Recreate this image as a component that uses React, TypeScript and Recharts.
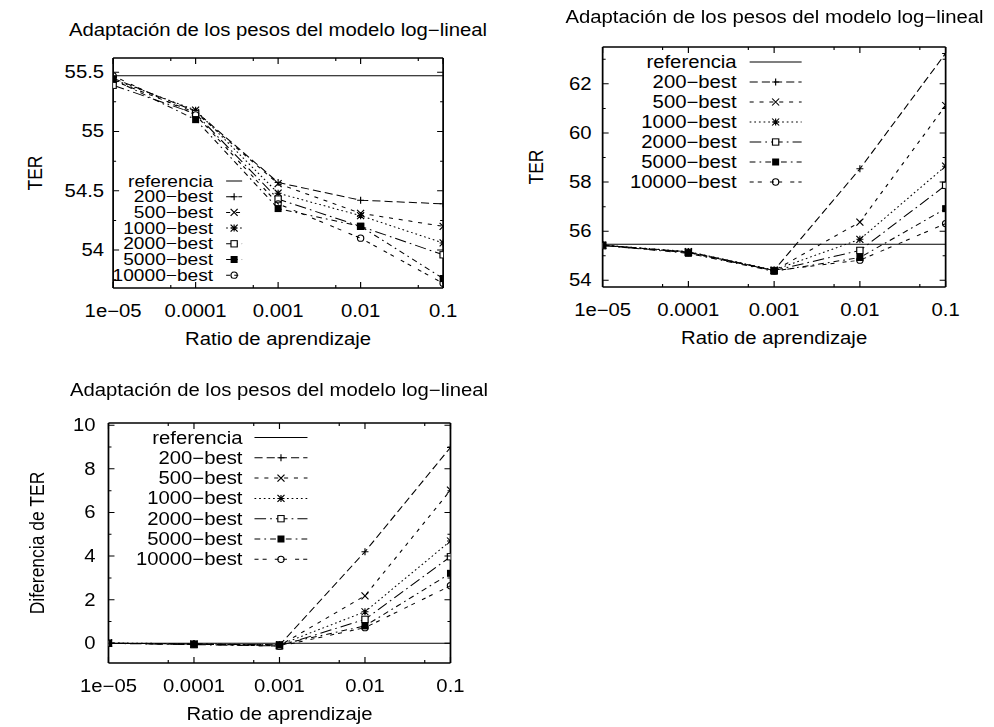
import { Legend, Line, LineChart, ReferenceLine, XAxis, YAxis } from "recharts"

// the reference picture is stretched sideways, so the whole page is drawn
// narrower and then scaled on x by this factor
const SX = 1.16
const FONT = "'Liberation Sans', Arial, Helvetica, sans-serif"
const FS = 17.5

const RATES = [1e-5, 1e-4, 1e-3, 1e-2, 1e-1]
const RATE_LABELS = ["1e−05", "0.0001", "0.001", "0.01", "0.1"]
const RATE_TICKS = [1e-5, 5e-5, 1e-4, 5e-4, 1e-3, 5e-3, 1e-2, 5e-2, 1e-1]

const NBEST = ["200−best", "500−best", "1000−best", "2000−best", "5000−best", "10000−best"]
const DASHES = ["7 3.5", "3.5 5", "1.5 2.5", "10 3.5 1.5 3.5", "5 3.5 1.5 3.5", "3.5 3.5 3.5 7"]
const MARKERS = ["plus", "cross", "star", "box", "boxFilled", "circle"]

// top-left panel: TER
const TER_REF = 55.47
const TER_200 = [55.45, 55.17, 54.57, 54.42, 54.39]
const TER_500 = [55.43, 55.16, 54.56, 54.31, 54.2]
const TER_1000 = [55.44, 55.18, 54.48, 54.29, 54.06]
const TER_2000 = [55.39, 55.15, 54.43, 54.2, 53.96]
const TER_5000 = [55.44, 55.1, 54.35, 54.2, 53.76]
const TER_10000 = [55.47, 55.14, 54.39, 54.1, 53.72]

// top-right panel: TER
const TER2_REF = 55.47
const TER2_200 = [55.43, 55.16, 54.41, 58.54, 63.24]
const TER2_500 = [55.42, 55.15, 54.4, 56.37, 61.12]
const TER2_1000 = [55.44, 55.17, 54.42, 55.67, 58.65]
const TER2_2000 = [55.41, 55.14, 54.4, 55.22, 57.87]
const TER2_5000 = [55.43, 55.1, 54.37, 54.93, 56.92]
const TER2_10000 = [55.44, 55.13, 54.39, 54.82, 56.31]

// bottom panel: diferencia de TER
const DIF_REF = 0
const DIF_200 = [0.0, -0.03, -0.08, 4.2, 8.98]
const DIF_500 = [0.01, -0.04, -0.1, 2.18, 7.02]
const DIF_1000 = [0.02, -0.02, -0.07, 1.45, 4.69]
const DIF_2000 = [0.0, -0.06, -0.12, 1.1, 3.97]
const DIF_5000 = [0.01, -0.04, -0.06, 0.8, 3.21]
const DIF_10000 = [0.0, -0.03, -0.13, 0.72, 2.64]

const SERIES = NBEST.map((name, i) => ({ key: `s${i}`, name, dash: DASHES[i], marker: MARKERS[i] }))

type Row = Record<string, number>

function buildRows(cols: number[][]): Row[] {
  return RATES.map((rate, i) => {
    const r: Row = { rate }
    SERIES.forEach((s, j) => {
      r[s.key] = cols[j][i]
    })
    return r
  })
}

const sameRate = (a: number, b: number) => Math.abs(a - b) / b < 1e-6
const isMajorRate = (v: number) => RATES.some((r) => sameRate(v, r))
const rateLabel = (v: number) => RATE_LABELS[RATES.findIndex((r) => sameRate(v, r))]

function Marker({ cx, cy, kind }: { cx: number; cy: number; kind: string }) {
  if (cx == null || cy == null) return null
  const h = 3.5
  const w = h / SX
  const k = { stroke: "#000", strokeWidth: 1 }
  switch (kind) {
    case "plus":
      return <path d={`M${cx - w},${cy}H${cx + w}M${cx},${cy - h}V${cy + h}`} {...k} />
    case "cross":
      return <path d={`M${cx - w},${cy - h}L${cx + w},${cy + h}M${cx - w},${cy + h}L${cx + w},${cy - h}`} {...k} />
    case "star":
      return (
        <path
          d={`M${cx - w},${cy}H${cx + w}M${cx},${cy - h}V${cy + h}M${cx - w},${cy - h}L${cx + w},${cy + h}M${cx - w},${cy + h}L${cx + w},${cy - h}`}
          {...k}
        />
      )
    case "box":
      return <rect x={cx - w * 0.9} y={cy - h * 0.9} width={w * 1.8} height={h * 1.8} fill="#fff" {...k} />
    case "boxFilled":
      return <rect x={cx - w} y={cy - h} width={w * 2} height={h * 2} fill="#000" />
    default:
      return <ellipse cx={cx} cy={cy} rx={w * 0.9} ry={h * 0.9} fill="none" {...k} />
  }
}

type Frame = { x: number; y: number; w: number; h: number }
type LegendPos = { right: number; x1: number; x2: number; y0: number; dy: number; fs: number }

type PanelProps = {
  title: string
  titleY: number
  frame: Frame // page pixels
  rows: Row[]
  refValue: number
  yDomain: [number, number]
  yTicks: number[]
  yMajor: number[]
  yLabelGap: number
  yTitle: string
  yTitleX: number
  legend: LegendPos
}

const PAD = { l: 105, r: 30, t: 10, b: 65 }

function Panel({ title, titleY, frame, rows, refValue, yDomain, yTicks, yMajor, yLabelGap, yTitle, yTitleX, legend }: PanelProps) {
  const left = frame.x - PAD.l
  const top = frame.y - PAD.t
  const W = (PAD.l + frame.w + PAD.r) / SX
  const H = PAD.t + frame.h + PAD.b
  const ux = (fx: number) => (fx - left) / SX
  const uy = (fy: number) => fy - top
  const txt = { fontSize: FS, fontFamily: FONT, fill: "#000" }
  const frameLine = { stroke: "#000", strokeWidth: 1.5 }

  const bottomTick = (p: any) => {
    const v = p.payload.value
    const major = isMajorRate(v)
    return (
      <g>
        <line x1={p.x} x2={p.x} y1={p.y} y2={p.y - (major ? 6 : 3)} stroke="#000" />
        {major && (
          <text x={p.x} y={p.y + 23} textAnchor="middle" dominantBaseline="central" {...txt}>
            {rateLabel(v)}
          </text>
        )}
      </g>
    )
  }
  const topTick = (p: any) => {
    const major = isMajorRate(p.payload.value)
    return <line x1={p.x} x2={p.x} y1={p.y} y2={p.y + (major ? 6 : 3)} stroke="#000" />
  }
  const leftTick = (p: any) => {
    const v = p.payload.value
    const major = yMajor.includes(v)
    return (
      <g>
        <line x1={p.x} x2={p.x + (major ? 6 : 3) / SX} y1={p.y} y2={p.y} stroke="#000" />
        {major && (
          <text x={p.x - yLabelGap / SX} y={p.y} textAnchor="end" dominantBaseline="central" {...txt}>
            {String(v)}
          </text>
        )}
      </g>
    )
  }
  const rightTick = (p: any) => {
    const major = yMajor.includes(p.payload.value)
    return <line x1={p.x} x2={p.x - (major ? 6 : 3) / SX} y1={p.y} y2={p.y} stroke="#000" />
  }

  const legendRows = [{ name: "referencia", dash: undefined as string | undefined, marker: "" }, ...SERIES]

  return (
    <>
      <div
        style={{
          position: "absolute",
          left: (frame.x + frame.w / 2 - 300) / SX,
          width: 600 / SX,
          top: titleY - 11,
          lineHeight: "22px",
          fontSize: FS,
          textAlign: "center",
          whiteSpace: "nowrap",
        }}
      >
        {title}
      </div>
      <div style={{ position: "absolute", left: left / SX, top }}>
        <LineChart width={W} height={H} data={rows} margin={{ top: 0, right: 0, bottom: 0, left: 0 }}>
          <XAxis
            xAxisId="b"
            dataKey="rate"
            type="number"
            scale="log"
            domain={[1e-5, 0.1]}
            ticks={RATE_TICKS}
            interval={0}
            allowDataOverflow
            height={PAD.b}
            tickSize={0}
            tickMargin={0}
            tickLine={false}
            axisLine={frameLine}
            tick={bottomTick}
            label={{ value: "Ratio de aprendizaje", position: "insideTop", offset: 44.5, ...txt }}
          />
          <XAxis
            xAxisId="t"
            orientation="top"
            dataKey="rate"
            type="number"
            scale="log"
            domain={[1e-5, 0.1]}
            ticks={RATE_TICKS}
            interval={0}
            allowDataOverflow
            height={PAD.t}
            tickSize={0}
            tickMargin={0}
            tickLine={false}
            axisLine={frameLine}
            tick={topTick}
          />
          <YAxis
            yAxisId="l"
            type="number"
            domain={yDomain}
            ticks={yTicks}
            interval={0}
            allowDataOverflow
            width={PAD.l / SX}
            tickSize={0}
            tickMargin={0}
            tickLine={false}
            axisLine={frameLine}
            tick={leftTick}
            label={{
              value: yTitle,
              angle: -90,
              position: "insideLeft",
              offset: ux(yTitleX),
              style: { textAnchor: "middle" },
              ...txt,
            }}
          />
          <YAxis
            yAxisId="r"
            orientation="right"
            type="number"
            domain={yDomain}
            ticks={yTicks}
            interval={0}
            allowDataOverflow
            width={PAD.r / SX}
            tickSize={0}
            tickMargin={0}
            tickLine={false}
            axisLine={frameLine}
            tick={rightTick}
          />
          <ReferenceLine xAxisId="b" yAxisId="l" y={refValue} stroke="#000" strokeWidth={1} />
          {SERIES.map((s) => (
            <Line
              key={s.key}
              xAxisId="b"
              yAxisId="l"
              dataKey={s.key}
              name={s.name}
              stroke="#000"
              strokeWidth={1}
              strokeDasharray={s.dash}
              dot={(p: any) => <Marker key={`${s.key}-${p.index}`} cx={p.cx} cy={p.cy} kind={s.marker} />}
              activeDot={false}
              isAnimationActive={false}
            />
          ))}
          <Legend
            layout="vertical"
            align="center"
            verticalAlign="middle"
            wrapperStyle={{ left: 0, top: 0, width: W, height: H, pointerEvents: "none" }}
            content={() => (
              <svg width={W} height={H} style={{ display: "block" }}>
                {legendRows.map((r, i) => {
                  const y = uy(legend.y0 + i * legend.dy)
                  return (
                    <g key={r.name}>
                      <text
                        x={ux(legend.right)}
                        y={y}
                        textAnchor="end"
                        dominantBaseline="central"
                        {...txt}
                        fontSize={legend.fs}
                      >
                        {r.name}
                      </text>
                      <line x1={ux(legend.x1)} x2={ux(legend.x2)} y1={y} y2={y} stroke="#000" strokeDasharray={r.dash} />
                      {r.marker && <Marker cx={ux((legend.x1 + legend.x2) / 2)} cy={y} kind={r.marker} />}
                    </g>
                  )
                })}
              </svg>
            )}
          />
        </LineChart>
      </div>
    </>
  )
}

const TITLE = "Adaptación de los pesos del modelo log−lineal"

export default function App() {
  return (
    <div
      style={{
        position: "absolute",
        left: 0,
        top: 0,
        width: 994 / SX,
        height: 727,
        transform: `scaleX(${SX})`,
        transformOrigin: "0 0",
        background: "#fff",
        fontFamily: FONT,
        color: "#000",
      }}
    >
      <Panel
        title={TITLE}
        titleY={30}
        frame={{ x: 113, y: 58, w: 330, h: 230 }}
        rows={buildRows([TER_200, TER_500, TER_1000, TER_2000, TER_5000, TER_10000])}
        refValue={TER_REF}
        yDomain={[53.68, 55.62]}
        yTicks={[53.75, 54, 54.25, 54.5, 54.75, 55, 55.25, 55.5]}
        yMajor={[54, 54.5, 55, 55.5]}
        yLabelGap={9}
        yTitle="TER"
        yTitleX={35}
        legend={{ right: 213, x1: 226, x2: 242, y0: 181, dy: 15.7, fs: 16.5 }}
      />
      <Panel
        title={TITLE}
        titleY={17}
        frame={{ x: 603, y: 47, w: 343, h: 240 }}
        rows={buildRows([TER2_200, TER2_500, TER2_1000, TER2_2000, TER2_5000, TER2_10000])}
        refValue={TER2_REF}
        yDomain={[53.73, 63.5]}
        yTicks={[54, 55, 56, 57, 58, 59, 60, 61, 62, 63]}
        yMajor={[54, 56, 58, 60, 62]}
        yLabelGap={11}
        yTitle="TER"
        yTitleX={536}
        legend={{ right: 737, x1: 750, x2: 802, y0: 62, dy: 20, fs: FS }}
      />
      <Panel
        title={TITLE}
        titleY={390}
        frame={{ x: 108, y: 423, w: 342, h: 240 }}
        rows={buildRows([DIF_200, DIF_500, DIF_1000, DIF_2000, DIF_5000, DIF_10000])}
        refValue={DIF_REF}
        yDomain={[-0.9, 10.1]}
        yTicks={[0, 1, 2, 3, 4, 5, 6, 7, 8, 9, 10]}
        yMajor={[0, 2, 4, 6, 8, 10]}
        yLabelGap={13}
        yTitle="Diferencia de TER"
        yTitleX={36}
        legend={{ right: 242, x1: 254, x2: 307, y0: 437.5, dy: 20.3, fs: FS }}
      />
    </div>
  )
}
